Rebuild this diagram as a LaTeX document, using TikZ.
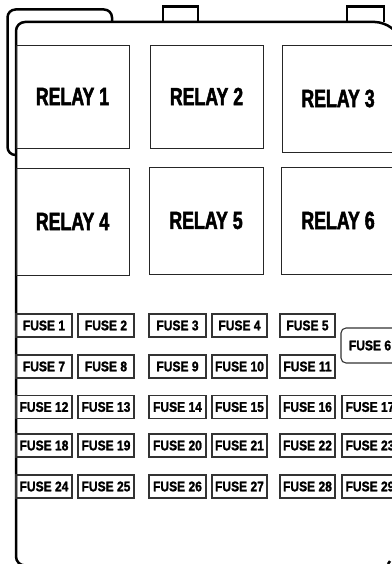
\documentclass[tikz,border=0pt]{standalone}
\usepackage{fontspec}
\newfontfamily\relayfont[FakeStretch=0.71,BoldFont={Liberation Sans Bold},BoldFeatures={FakeStretch=0.71,FakeBold=2}]{Liberation Sans}
\newfontfamily\fusefont[FakeStretch=0.86,BoldFont={Liberation Sans Bold},BoldFeatures={FakeStretch=0.86,FakeBold=1.5}]{Liberation Sans}
\begin{document}
\begin{tikzpicture}[x=1pt,y=-1pt,
  outline/.style={draw=black,line width=2.5pt},
  relaybox/.style={draw=black!85,line width=0.9pt,inner sep=0pt,minimum width=113pt,minimum height=105pt,
    font=\relayfont\bfseries\fontsize{25}{25}\selectfont},
  fusebox/.style={draw=black!80,line width=1.1pt,inner sep=0pt,minimum width=56pt,minimum height=23pt,
    font=\fusefont\bfseries\fontsize{14}{14}\selectfont},
  fuseround/.style={fusebox,rounded corners=5pt,minimum width=58pt,minimum height=35pt}]
\useasboundingbox (0,0) rectangle (391,564);
% housing outline
\draw[outline,rounded corners=9pt] (40,565.5) -- (16,565.5) -- (16,22) -- (384,22) -- (394,30);
\draw[outline,rounded corners=8pt] (15,155) -- (7.5,155) -- (7.5,9.5) -- (112,9.5) -- (112,22);
\draw[outline] (163,22) -- (163,6.5) -- (198,6.5) -- (198,22);
\draw[outline] (347,22) -- (347,6.5) -- (384,6.5) -- (384,22);
\draw[outline] (388,564) -- (390,561);
% relays
\node[relaybox,minimum height=103pt] (r1) at (72.5,96.5) {RELAY 1};
\node[relaybox,minimum height=103pt] (r2) at (206.5,96.5) {RELAY 2};
\node[relaybox,minimum width=112pt,minimum height=107pt] (r3) at (338,98.5) {RELAY 3};
\node[relaybox,minimum height=107pt] (r4) at (72.5,221.5) {RELAY 4};
\node[relaybox,minimum width=114pt,minimum height=107pt] (r5) at (206,220.5) {RELAY 5};
\node[relaybox,minimum width=114pt,minimum height=107pt] (r6) at (338,220.5) {RELAY 6};
% fuses row 1
\node[fusebox] (f1) at (44,325.5) {FUSE 1};
\node[fusebox] (f2) at (106,325.5) {FUSE 2};
\node[fusebox,minimum width=57pt] (f3) at (177.5,325.5) {FUSE 3};
\node[fusebox,minimum width=55pt] (f4) at (239.5,325.5) {FUSE 4};
\node[fusebox,minimum width=55pt] (f5) at (307.5,325.5) {FUSE 5};
\node[fuseround] (f6) at (370,345.5) {FUSE 6};
% row 2
\node[fusebox] (f7) at (44,366.5) {FUSE 7};
\node[fusebox] (f8) at (106,366.5) {FUSE 8};
\node[fusebox,minimum width=57pt] (f9) at (177.5,366.5) {FUSE 9};
\node[fusebox,minimum width=55pt] (f10) at (239.5,366.5) {FUSE 10};
\node[fusebox,minimum width=55pt] (f11) at (307.5,366.5) {FUSE 11};
% row 3
\node[fusebox] (f12) at (44,407) {FUSE 12};
\node[fusebox] (f13) at (106,407) {FUSE 13};
\node[fusebox,minimum width=57pt] (f14) at (177.5,407) {FUSE 14};
\node[fusebox,minimum width=55pt] (f15) at (239.5,407) {FUSE 15};
\node[fusebox,minimum width=55pt] (f16) at (307.5,407) {FUSE 16};
\node[fusebox] (f17) at (370,407) {FUSE 17};
% row 4
\node[fusebox] (f18) at (44,445.5) {FUSE 18};
\node[fusebox] (f19) at (106,445.5) {FUSE 19};
\node[fusebox,minimum width=57pt] (f20) at (177.5,445.5) {FUSE 20};
\node[fusebox,minimum width=55pt] (f21) at (239.5,445.5) {FUSE 21};
\node[fusebox,minimum width=55pt] (f22) at (307.5,445.5) {FUSE 22};
\node[fusebox] (f23) at (370,445.5) {FUSE 23};
% row 5
\node[fusebox] (f24) at (44,486.5) {FUSE 24};
\node[fusebox] (f25) at (106,486.5) {FUSE 25};
\node[fusebox,minimum width=57pt] (f26) at (177.5,486.5) {FUSE 26};
\node[fusebox,minimum width=55pt] (f27) at (239.5,486.5) {FUSE 27};
\node[fusebox,minimum width=55pt] (f28) at (307.5,486.5) {FUSE 28};
\node[fusebox] (f29) at (370,486.5) {FUSE 29};
\end{tikzpicture}
\end{document}
